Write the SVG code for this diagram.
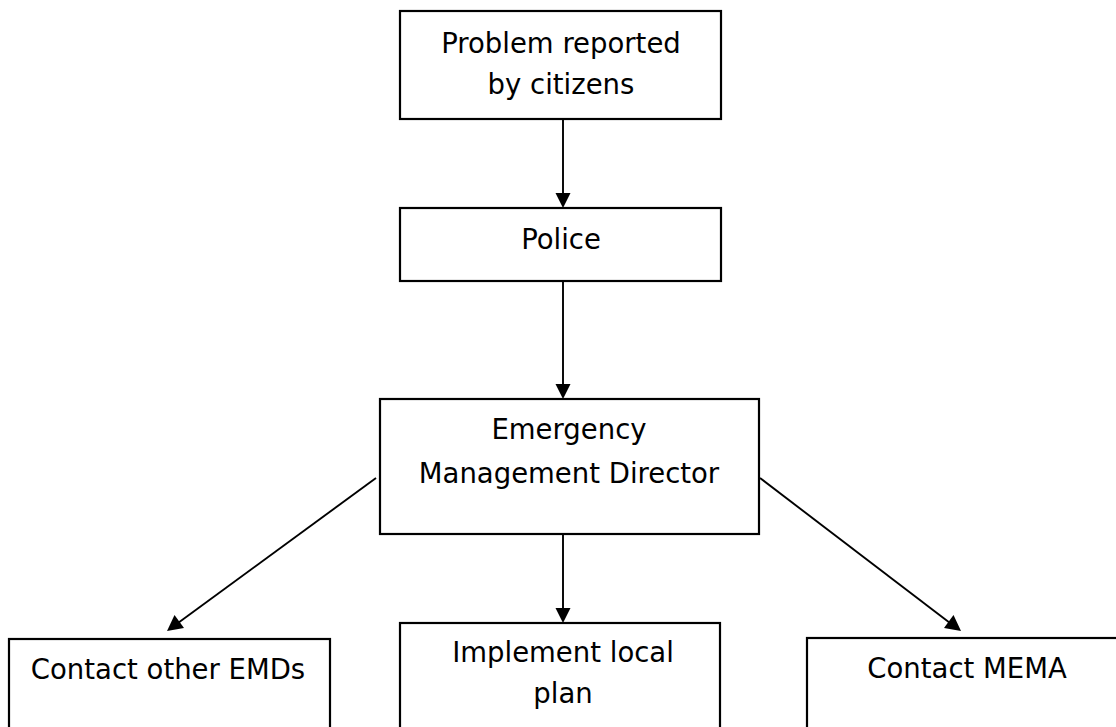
<svg xmlns="http://www.w3.org/2000/svg" width="1116" height="727" viewBox="0 0 1116 727">
<style>
.box{fill:#fff;stroke:#000;stroke-width:2.2}
.t{font-family:"DejaVu Sans","Liberation Sans",sans-serif;font-size:27.5px;fill:#000;text-anchor:middle}
.c{stroke:#000;stroke-width:1.9;fill:none}
.h{fill:#000}
</style>
<rect width="1116" height="727" fill="#fff"/>
<g id="connectors">
<line class="c" x1="563" y1="119" x2="563" y2="196"/>
<path class="h" d="M555.5,193 L570.5,193 L563,208 z"/>
<line class="c" x1="563" y1="281" x2="563" y2="387"/>
<path class="h" d="M555.5,384 L570.5,384 L563,399 z"/>
<line class="c" x1="563" y1="534" x2="563" y2="611"/>
<path class="h" d="M555.5,608 L570.5,608 L563,623 z"/>
<line class="c" x1="376" y1="478" x2="178" y2="623"/>
<path class="h" d="M167,631 L174.5,615 L184,628 z"/>
<line class="c" x1="760" y1="478" x2="950" y2="623"/>
<path class="h" d="M961,631 L944,628 L953.5,615 z"/>
</g>
<g id="n1">
<rect class="box" x="400" y="11" width="321" height="108"/>
<text class="t" x="561" y="53">Problem reported</text>
<text class="t" x="561" y="94">by citizens</text>
</g>
<g id="n2">
<rect class="box" x="400" y="208" width="321" height="73"/>
<text class="t" x="561" y="249">Police</text>
</g>
<g id="n3">
<rect class="box" x="380" y="399" width="379" height="135"/>
<text class="t" x="569" y="439">Emergency</text>
<text class="t" x="569" y="483">Management Director</text>
</g>
<g id="n4">
<rect class="box" x="9" y="639" width="321" height="100"/>
<text class="t" x="168" y="679">Contact other EMDs</text>
</g>
<g id="n5">
<rect class="box" x="400" y="623" width="320" height="116"/>
<text class="t" x="563" y="662">Implement local</text>
<text class="t" x="563" y="703">plan</text>
</g>
<g id="n6">
<rect class="box" x="807" y="638" width="321" height="100"/>
<text class="t" x="967" y="678">Contact MEMA</text>
</g>
</svg>
